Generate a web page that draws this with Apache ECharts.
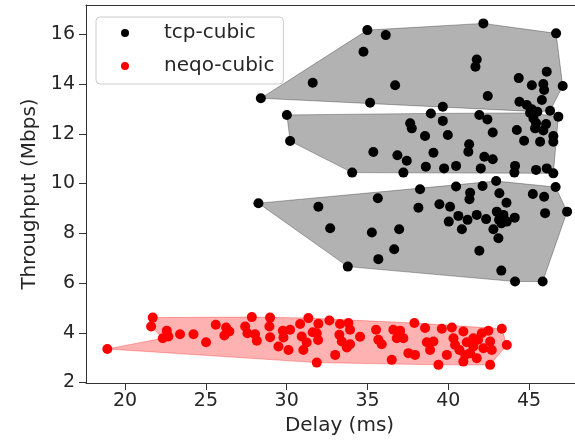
<!DOCTYPE html>
<html><head><meta charset="utf-8">
<script src="https://cdn.jsdelivr.net/npm/echarts@6/dist/echarts.min.js"></script>
<style>html,body{margin:0;padding:0;background:#fff}#c{width:575px;height:442px}</style>
</head><body><div id="c"></div>
<script>
const xTicks = [20, 25, 30, 35, 40, 45];
const yTicks = [2, 4, 6, 8, 10, 12, 14, 16];
const xTitle = 'Delay (ms)';
const yTitle = 'Throughput (Mbps)';
const seriesNames = ['tcp-cubic', 'neqo-cubic'];

// tcp-cubic, upper group
const tcpTop = [[28.40,13.43],[34.99,16.17],[36.13,15.97],[42.17,16.44],[46.67,16.04],[34.75,15.30],[41.76,14.99],[41.68,14.70],[31.61,14.05],[36.71,13.95],[46.09,14.50],[44.36,14.24],[45.17,13.95],[45.88,14.00],[45.93,13.76],[47.08,13.92],[35.16,13.25],[42.44,13.52],[39.66,13.09],[44.40,13.29],[45.79,13.36],[44.86,13.16],[45.17,12.99],[45.51,12.89],[46.30,12.93]];
// tcp-cubic, middle group
const tcpMid = [[30.01,12.76],[30.21,11.71],[38.92,12.82],[41.92,12.76],[42.42,12.58],[39.66,12.52],[37.64,12.42],[37.74,12.22],[38.56,11.91],[39.97,11.95],[42.75,12.05],[44.24,12.15],[44.69,11.72],[41.29,11.58],[41.24,11.28],[35.36,11.27],[36.85,11.14],[39.08,11.24],[37.43,10.92],[37.22,10.44],[34.05,10.44],[38.61,10.68],[39.74,10.61],[40.48,10.71],[42.23,11.08],[42.75,10.98],[42.01,10.61],[44.13,10.71],[44.09,10.44],[45.43,10.55],[46.09,10.61],[46.50,10.41],[45.27,12.62],[46.81,12.69],[45.37,12.22],[45.88,12.13],[45.68,11.68],[46.50,11.91],[46.50,11.68],[45.06,12.84],[46.05,12.39],[45.43,12.43]];
// tcp-cubic, lower group
const tcpLow = [[28.25,9.21],[31.96,9.07],[32.69,8.20],[35.64,9.41],[35.27,8.03],[36.96,8.16],[36.65,7.36],[35.67,6.96],[33.78,6.66],[38.25,9.77],[38.15,9.03],[39.45,9.17],[40.11,9.07],[40.48,9.88],[41.35,9.63],[41.31,9.37],[42.12,9.90],[42.96,10.10],[43.16,9.61],[43.60,9.23],[40.03,8.47],[40.62,8.70],[41.19,8.54],[40.84,8.16],[41.76,8.74],[42.34,8.57],[43.00,8.87],[43.14,8.54],[43.41,8.74],[42.79,8.16],[43.62,8.47],[44.11,8.63],[43.10,7.80],[41.92,7.30],[43.28,6.50],[44.13,6.06],[45.84,6.06],[45.23,9.58],[45.93,9.47],[46.64,9.86],[45.99,8.81],[47.35,8.87],[43.29,8.40]];
// neqo-cubic (first point is the isolated low-delay sample)
const neqo = [[18.90,3.35],[21.71,4.61],[21.61,4.25],[22.58,4.08],[22.68,3.85],[22.33,3.78],[23.40,3.94],[24.23,3.94],[25.01,3.62],[25.61,4.32],[26.25,4.21],[26.45,4.05],[26.14,3.89],[27.43,4.25],[27.57,3.98],[27.84,4.63],[28.04,3.94],[28.15,3.68],[28.97,4.61],[28.93,4.25],[28.97,3.82],[29.76,4.08],[29.80,3.81],[30.21,4.12],[29.49,3.45],[30.11,3.31],[30.83,4.35],[30.93,3.85],[31.34,4.59],[31.96,4.36],[31.86,3.98],[31.24,3.61],[31.86,2.80],[32.64,4.49],[33.00,3.11],[31.03,3.31],[31.61,4.02],[33.30,4.35],[33.82,4.39],[33.92,4.12],[33.26,3.92],[33.41,3.65],[33.92,3.54],[33.72,3.41],[35.53,4.12],[35.67,3.72],[35.88,3.54],[36.50,2.91],[36.60,4.12],[37.02,4.08],[36.81,3.78],[37.22,3.78],[37.90,4.39],[38.56,4.19],[37.53,3.18],[37.94,3.11],[38.67,3.62],[39.08,3.65],[39.60,4.16],[40.22,4.21],[40.32,3.78],[40.93,4.05],[41.14,3.62],[39.91,3.11],[39.39,2.71],[40.69,3.31],[41.04,3.11],[41.55,3.45],[41.55,3.78],[42.07,3.98],[42.48,4.08],[42.17,3.38],[41.76,2.98],[40.93,2.84],[42.59,2.71],[43.31,4.16],[43.62,3.51],[42.59,3.65],[42.69,3.31],[41.35,3.18],[31.94,3.71],[34.54,3.84],[38.87,3.31],[40.42,3.51],[41.84,3.72]];

function convexHull(points) {
  const p = points.slice().sort((a, b) => a[0] - b[0] || a[1] - b[1]);
  const cross = (o, a, b) => (a[0]-o[0])*(b[1]-o[1]) - (a[1]-o[1])*(b[0]-o[0]);
  const lower = [];
  for (const q of p) { while (lower.length >= 2 && cross(lower[lower.length-2], lower[lower.length-1], q) <= 0) lower.pop(); lower.push(q); }
  const upper = [];
  for (let i = p.length - 1; i >= 0; i--) { const q = p[i]; while (upper.length >= 2 && cross(upper[upper.length-2], upper[upper.length-1], q) <= 0) upper.pop(); upper.push(q); }
  upper.pop(); lower.pop();
  return lower.concat(upper);
}

function polySeries(h, fill) {
  return {
    type: 'custom', coordinateSystem: 'cartesian2d', silent: true, z: 1,
    data: [h[0]],
    renderItem: function (params, api) {
      return { type: 'polygon', shape: { points: h.map(p => api.coord(p)) },
        style: { fill: fill, stroke: fill, lineWidth: 1 } };
    }
  };
}

// neqo outline: hull of the main cloud, with the isolated sample joined along the lower-left edge
function neqoOutline() {
  const outlier = neqo[0];
  const h = convexHull(neqo.slice(1));
  h.splice(2, 0, outlier);
  return h;
}

const FONT = 'DejaVu Sans';
const TXT = '#262626';
const AX = '#333333';
const chart = echarts.init(document.getElementById('c'), null, { renderer: 'canvas' });
chart.setOption({
  animation: false,
  backgroundColor: '#fff',
  grid: { left: 86, right: 0, top: 5, bottom: 59, show: false },
  legend: {
    show: true, orient: 'vertical', left: 96, top: 17,
    data: [{ name: seriesNames[0], icon: 'circle' }, { name: seriesNames[1], icon: 'circle' }],
    itemWidth: 48, itemHeight: 8, itemGap: 13,
    padding: [6, 9, 8, 25],
    backgroundColor: 'rgba(255,255,255,0.85)', borderColor: '#cccccc', borderWidth: 1, borderRadius: 4,
    textStyle: { fontFamily: FONT, fontSize: 20, color: TXT, lineHeight: 20, padding: [0, 0, 0, 10] }
  },
  xAxis: [{
    type: 'value', min: 17.58, max: 47.84, position: 'bottom',
    name: xTitle, nameLocation: 'middle', nameGap: 33,
    nameTextStyle: { fontFamily: FONT, fontSize: 20, color: TXT, padding: [0, 0, 0, 18] },
    axisLine: { show: true, onZero: false, lineStyle: { color: AX, width: 1 } },
    axisTick: { show: true, length: 7, inside: false, customValues: xTicks, lineStyle: { color: AX } },
    axisLabel: { customValues: xTicks, margin: 9, fontFamily: FONT, fontSize: 19, color: TXT },
    splitLine: { show: false }
  }, {
    type: 'value', min: 17.58, max: 47.84, position: 'top',
    axisLine: { show: true, onZero: false, lineStyle: { color: AX, width: 1 } },
    axisTick: { show: false }, axisLabel: { show: false }, splitLine: { show: false }
  }],
  yAxis: {
    type: 'value', min: 1.98, max: 17.18,
    name: yTitle, nameLocation: 'middle', nameGap: 44,
    nameTextStyle: { fontFamily: FONT, fontSize: 20, color: TXT },
    axisLine: { show: true, onZero: false, lineStyle: { color: AX, width: 1 } },
    axisTick: { show: true, length: 7, inside: false, customValues: yTicks, lineStyle: { color: AX } },
    axisLabel: { customValues: yTicks, margin: 11, fontFamily: FONT, fontSize: 19, color: TXT },
    splitLine: { show: false }
  },
  series: [
    polySeries(convexHull(tcpTop), 'rgba(0,0,0,0.3)'),
    polySeries(convexHull(tcpMid), 'rgba(0,0,0,0.3)'),
    polySeries(convexHull(tcpLow), 'rgba(0,0,0,0.3)'),
    polySeries(neqoOutline(), 'rgba(255,0,0,0.3)'),
    { name: seriesNames[0], type: 'scatter', z: 3, symbol: 'circle', symbolSize: 10,
      itemStyle: { color: '#000000', opacity: 1 }, data: tcpTop.concat(tcpMid, tcpLow) },
    { name: seriesNames[1], type: 'scatter', z: 3, symbol: 'circle', symbolSize: 10,
      itemStyle: { color: '#ff0000', opacity: 1 }, data: neqo }
  ]
});
</script></body></html>
